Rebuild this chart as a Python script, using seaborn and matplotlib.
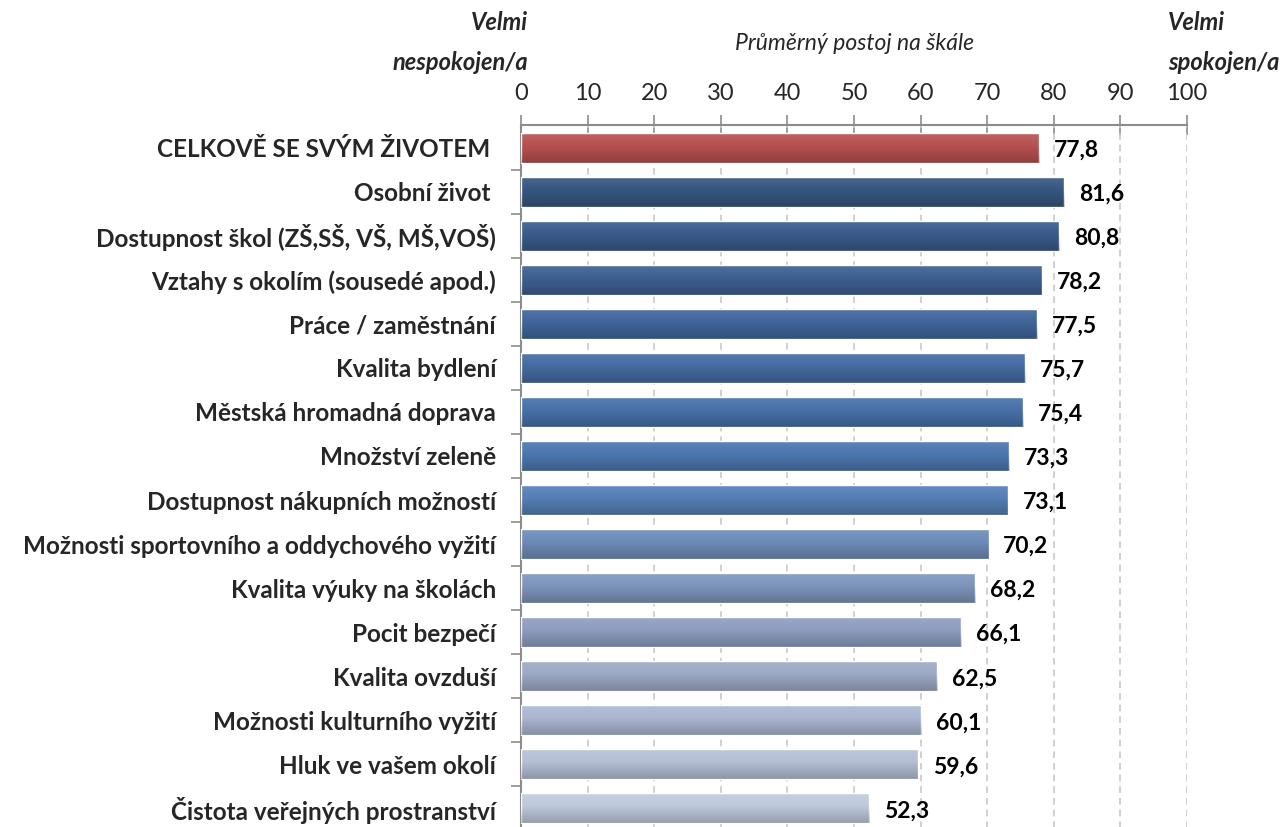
import numpy as np
import pandas as pd
import matplotlib
matplotlib.use('Agg')
import matplotlib.pyplot as plt
import seaborn as sns
from matplotlib.ticker import FixedLocator

sns.set_style('white')
plt.rcParams['font.family'] = ['Lato', 'DejaVu Sans']

# data
categories = [
    'CELKOVĚ SE SVÝM ŽIVOTEM ',
    'Osobní život ',
    'Dostupnost škol (ZŠ,SŠ, VŠ, MŠ,VOŠ)',
    'Vztahy s okolím (sousedé apod.)',
    'Práce / zaměstnání',
    'Kvalita bydlení',
    'Městská hromadná doprava',
    'Množství zeleně',
    'Dostupnost nákupních možností',
    'Možnosti sportovního a oddychového vyžití',
    'Kvalita výuky na školách',
    'Pocit bezpečí',
    'Kvalita ovzduší',
    'Možnosti kulturního vyžití',
    'Hluk ve vašem okolí',
    'Čistota veřejných prostranství',
]
values = [77.8, 81.6, 80.8, 78.2, 77.5, 75.7, 75.4, 73.3, 73.1,
          70.2, 68.2, 66.1, 62.5, 60.1, 59.6, 52.3]
colors = ['#c94040', '#2a558f', '#2d5a99', '#2f5ea0', '#3264aa', '#3569b3',
          '#386eba', '#3c74c1', '#467cc6', '#6189c6', '#7492c6', '#859bca',
          '#96a7cd', '#a5b5d8', '#afbedd', '#bbc8e2']
tick_vals = list(range(0, 101, 10))

df = pd.DataFrame({'cat': categories, 'val': values})

fig = plt.figure(figsize=(12.84, 8.27), dpi=100)
ax = fig.add_axes([521 / 1284, 1 - 831 / 827, 666 / 1284, (831 - 125) / 827])

sns.barplot(data=df, x='val', y='cat', hue='cat', palette=colors,
            legend=False, orient='h', width=0.68, ax=ax, zorder=3)

# vertical gradient on each bar (lighter top, darker bottom)
grad = np.zeros((64, 1, 4))
t = np.linspace(0, 1, 64)
grad[:, 0, :3] = np.where(t[:, None] < 0.4, 1.0, 0.0)
grad[:, 0, 3] = np.where(t < 0.4, 0.10 * (0.4 - t) / 0.4, 0.22 * (t - 0.4) / 0.6)
for p in ax.patches:
    x0, y0 = p.get_x(), p.get_y()
    w, h = p.get_width(), p.get_height()
    ax.imshow(grad, extent=[x0, x0 + w, y0 + h, y0], aspect='auto',
              origin='upper', zorder=4, interpolation='bilinear')

ax.set_xlim(0, 100)
ax.set_ylim(15.52, -0.52)

# value labels
for i, v in enumerate(values):
    ax.text(v + 2.2, i + 0.06, f'{v:.1f}'.replace('.', ','), va='center',
            ha='left', fontsize=16.5, fontweight='bold', color='black', zorder=5)

# grid and axes
for xv in tick_vals[1:]:
    ax.axvline(xv, color='#c8c8c8', lw=1.2, ls=(0, (4, 3)), zorder=1)

ax.xaxis.tick_top()
ax.set_xticks(tick_vals)
ax.set_xticklabels([str(v) for v in tick_vals], fontsize=17)
ax.tick_params(axis='x', direction='inout', length=14, width=1.2,
               color='#8c8c8c', pad=8)
ax.set_xlabel('')
ax.set_ylabel('')
ax.tick_params(axis='y', length=0, pad=18, labelsize=17.5)
for lab in ax.get_yticklabels():
    lab.set_fontweight('bold')
ax.yaxis.set_minor_locator(FixedLocator(np.arange(0.5, 15.5, 1)))
ax.tick_params(axis='y', which='minor', length=7, width=1.2,
               color='#8c8c8c', left=True)

for s in ['right', 'bottom']:
    ax.spines[s].set_visible(False)
for s in ['top', 'left']:
    ax.spines[s].set_color('#8c8c8c')
    ax.spines[s].set_linewidth(1.5)

# header texts
fig.text(528 / 1284, 1 - 22 / 827, 'Velmi', ha='right', va='center',
         fontsize=17, fontweight='bold', style='italic')
fig.text(528 / 1284, 1 - 62 / 827, 'nespokojen/a', ha='right', va='center',
         fontsize=17, fontweight='bold', style='italic')
fig.text(855 / 1284, 1 - 44 / 827, 'Průměrný postoj na škále', ha='center',
         va='center', fontsize=16.5, style='italic')
fig.text(1168 / 1284, 1 - 22 / 827, 'Velmi', ha='left', va='center',
         fontsize=17, fontweight='bold', style='italic')
fig.text(1168 / 1284, 1 - 62 / 827, 'spokojen/a', ha='left', va='center',
         fontsize=17, fontweight='bold', style='italic')

fig.savefig('out.png', dpi=100)
